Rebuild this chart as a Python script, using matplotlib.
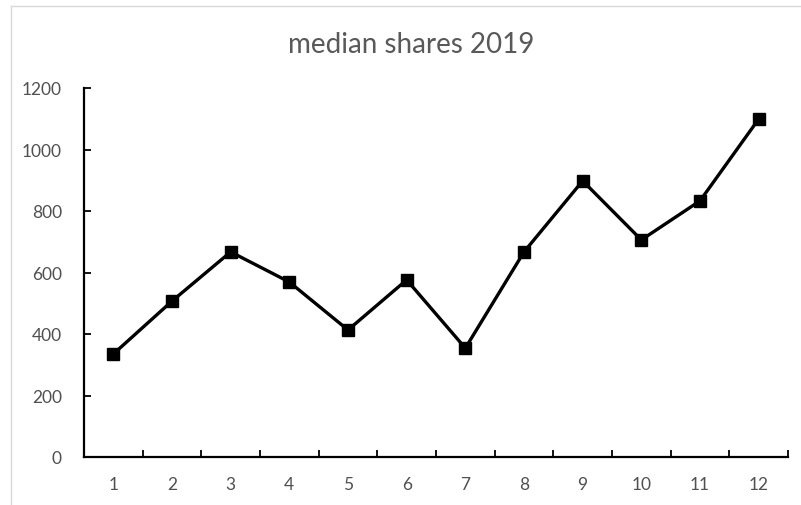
import matplotlib.pyplot as plt
from matplotlib.lines import Line2D
import numpy as np

plt.rcParams['font.family'] = ['Lato', 'DejaVu Sans']

months = [1, 2, 3, 4, 5, 6, 7, 8, 9, 10, 11, 12]
median_shares = [335, 507, 667, 569, 413, 576, 354, 667, 898, 706, 833, 1099]

W, H = 801, 506
fig = plt.figure(figsize=(W / 100, H / 100), dpi=100)
ax = fig.add_axes([84 / W, (H - 458) / H, (788 - 84) / W, (458 - 89) / H])

x = np.arange(len(months))
ax.plot(x, median_shares, color='black', linewidth=2.4, marker='s', markersize=9)

ax.set_xlim(-0.5, len(months) - 0.5)
ax.set_ylim(0, 1200)
ax.set_yticks(np.arange(0, 1201, 200))

# category labels in the middle, tick marks between categories
ax.set_xticks(x)
ax.set_xticklabels([str(m) for m in months])
ax.set_xticks(np.arange(0.5, len(months), 1), minor=True)
ax.tick_params(axis='x', which='major', length=0, pad=14, labelsize=12.5, labelcolor='#505050')
ax.tick_params(axis='x', which='minor', direction='in', length=5, width=1.3)
ax.tick_params(axis='y', direction='in', length=5, width=1.3, pad=16, labelsize=12.5, labelcolor='#505050')

for s in ['top', 'right']:
    ax.spines[s].set_visible(False)
for s in ['left', 'bottom']:
    ax.spines[s].set_linewidth(1.6)
    ax.spines[s].set_color('black')

fig.text(411 / W, 1 - 45 / H, 'median shares 2019', ha='center', va='center',
         fontsize=20, color='#595959')

# light frame edges
fig.add_artist(Line2D([11 / W, 1], [1 - 7 / H, 1 - 7 / H], color='#d9d9d9', lw=1))
fig.add_artist(Line2D([11 / W, 11 / W], [1 - 505 / H, 1 - 7 / H], color='#d9d9d9', lw=1))

plt.savefig('out.png', dpi=100)
